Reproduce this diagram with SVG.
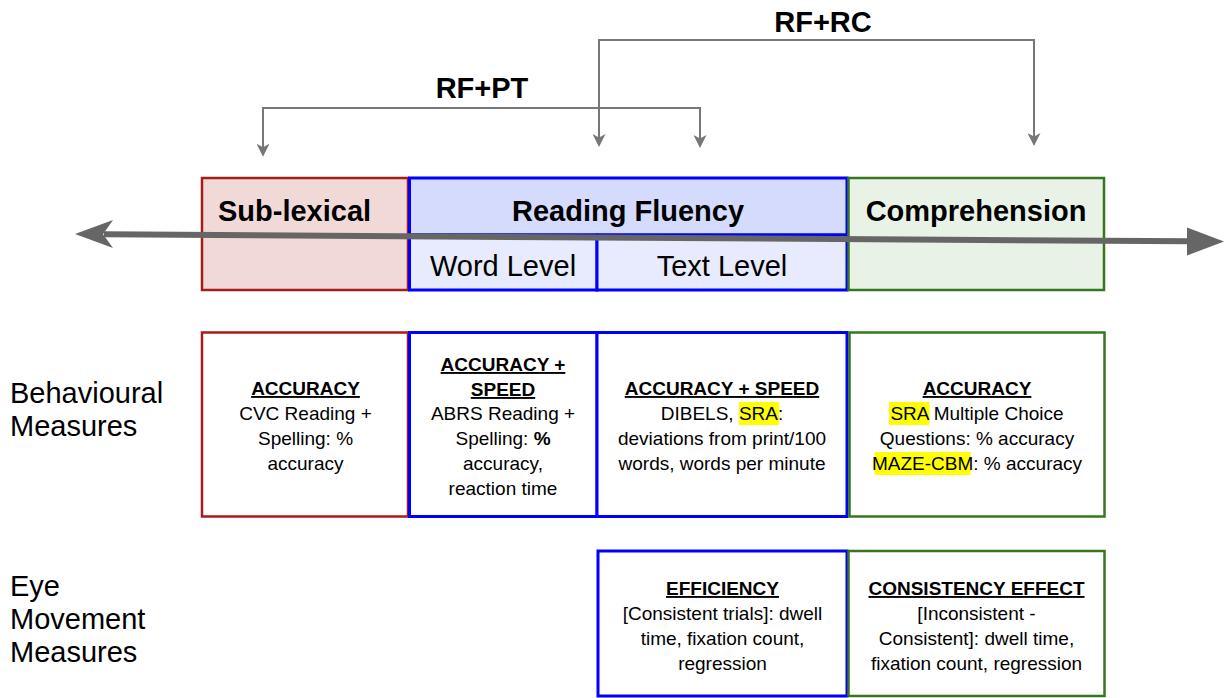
<svg xmlns="http://www.w3.org/2000/svg" width="1225" height="698" viewBox="0 0 1225 698">
<style>
  .big { font-family: "Liberation Sans", Arial, sans-serif; font-size: 29px; fill: #000; }
  .bold { font-weight: bold; }
  .t { font-family: "Liberation Sans", Arial, sans-serif; font-size: 19px; fill: #000; text-anchor: middle; }
  .h { font-weight: bold; text-decoration: underline; }
  .red { stroke: #a61c1c; stroke-width: 2.5; }
  .blue { stroke: #0000ff; stroke-width: 3; }
  .green { stroke: #38761d; stroke-width: 2.5; }
  .conn { fill: none; stroke: #777; stroke-width: 2; }
  .hl { fill: #ffff00; }
</style>
<defs>
  <marker id="arr" viewBox="0 0 13 13" refX="5" refY="6.5" markerWidth="13" markerHeight="13" markerUnits="userSpaceOnUse" orient="auto-start-reverse">
    <path d="M0,0 L13,6.5 L0,13 L3.5,6.5 Z" fill="#777"/>
  </marker>
</defs>

<!-- connectors -->
<g id="connectors">
  <path class="conn" d="M263,148.7 V108 H700 V140" marker-start="url(#arr)" marker-end="url(#arr)"/>
  <path class="conn" d="M599,139 V40 H1034 V138" marker-start="url(#arr)" marker-end="url(#arr)"/>
  <text class="big bold" x="482" y="98" text-anchor="middle">RF+PT</text>
  <text class="big bold" x="823" y="32" text-anchor="middle">RF+RC</text>
</g>

<!-- top category boxes -->
<g id="sublexical">
  <rect class="red" x="202" y="178" width="206" height="112" fill="#f1d9d8"/>
  <text class="big bold" x="218" y="221">Sub-lexical</text>
</g>
<g id="reading-fluency">
  <rect class="blue" x="409.5" y="178" width="437.5" height="57" fill="#d4dbfc"/>
  <text class="big bold" x="628" y="221" text-anchor="middle">Reading Fluency</text>
</g>
<g id="word-level">
  <rect class="blue" x="409.5" y="235" width="187.5" height="55" fill="#e8ebfd"/>
  <text class="big" x="503" y="276" text-anchor="middle">Word Level</text>
</g>
<g id="text-level">
  <rect class="blue" x="597" y="235" width="250" height="55" fill="#e8ebfd"/>
  <text class="big" x="722" y="276" text-anchor="middle">Text Level</text>
</g>
<g id="comprehension">
  <rect class="green" x="848.5" y="178" width="255.5" height="112" fill="#e8f2e6"/>
  <text class="big bold" x="976" y="221" text-anchor="middle">Comprehension</text>
</g>

<!-- axis -->
<g id="axis">
  <line x1="104" y1="234.3" x2="1190" y2="241.3" stroke="#666" stroke-width="6"/>
  <polygon points="75,234 113,220 103,234.3 113,248" fill="#666"/>
  <polygon points="1224,241.5 1187,227.5 1187,255.5" fill="#666"/>
</g>

<!-- row labels -->
<g id="label-behavioural">
  <text class="big" x="10" y="403">Behavioural</text>
  <text class="big" x="10" y="436">Measures</text>
</g>
<g id="label-eye">
  <text class="big" x="10" y="596">Eye</text>
  <text class="big" x="10" y="629">Movement</text>
  <text class="big" x="10" y="662">Measures</text>
</g>

<!-- behavioural boxes -->
<g id="beh-sublexical">
  <rect class="red" x="202" y="332.5" width="206" height="184" fill="#fff"/>
  <text class="t h" x="305.5" y="395">ACCURACY</text>
  <text class="t" x="305.5" y="420">CVC Reading +</text>
  <text class="t" x="305.5" y="445">Spelling: %</text>
  <text class="t" x="305.5" y="470">accuracy</text>
</g>
<g id="beh-word">
  <rect class="blue" x="409.5" y="332.5" width="187.5" height="184" fill="#fff"/>
  <text class="t h" x="503" y="371">ACCURACY +</text>
  <text class="t h" x="503" y="396">SPEED</text>
  <text class="t" x="503" y="420">ABRS Reading +</text>
  <text class="t" x="503" y="445">Spelling: <tspan font-weight="bold">%</tspan></text>
  <text class="t" x="503" y="470">accuracy,</text>
  <text class="t" x="503" y="495">reaction time</text>
</g>
<g id="beh-text">
  <rect class="blue" x="597" y="332.5" width="250" height="184" fill="#fff"/>
  <rect class="hl" x="739" y="402" width="40" height="23"/>
  <text class="t h" x="722" y="395">ACCURACY + SPEED</text>
  <text class="t" x="722" y="420">DIBELS, SRA:</text>
  <text class="t" x="722" y="445">deviations from print/100</text>
  <text class="t" x="722" y="470">words, words per minute</text>
</g>
<g id="beh-comp">
  <rect class="green" x="849.5" y="332.5" width="255" height="184" fill="#fff"/>
  <rect class="hl" x="889" y="402" width="40.5" height="23"/>
  <rect class="hl" x="874.5" y="452" width="96" height="23"/>
  <text class="t h" x="977" y="395">ACCURACY</text>
  <text class="t" x="977" y="420">SRA Multiple Choice</text>
  <text class="t" x="977" y="445">Questions: % accuracy</text>
  <text class="t" x="977" y="470">MAZE-CBM: % accuracy</text>
</g>

<!-- eye movement boxes -->
<g id="eye-text">
  <rect class="blue" x="598" y="551" width="249" height="145" fill="#fff"/>
  <text class="t h" x="722.5" y="595">EFFICIENCY</text>
  <text class="t" x="722.5" y="620">[Consistent trials]: dwell</text>
  <text class="t" x="722.5" y="645">time, fixation count,</text>
  <text class="t" x="722.5" y="670">regression</text>
</g>
<g id="eye-comp">
  <rect class="green" x="848.5" y="551" width="256" height="145" fill="#fff"/>
  <text class="t h" x="976.5" y="595">CONSISTENCY EFFECT</text>
  <text class="t" x="976.5" y="620">[Inconsistent -</text>
  <text class="t" x="976.5" y="645">Consistent]: dwell time,</text>
  <text class="t" x="976.5" y="670">fixation count, regression</text>
</g>
</svg>
